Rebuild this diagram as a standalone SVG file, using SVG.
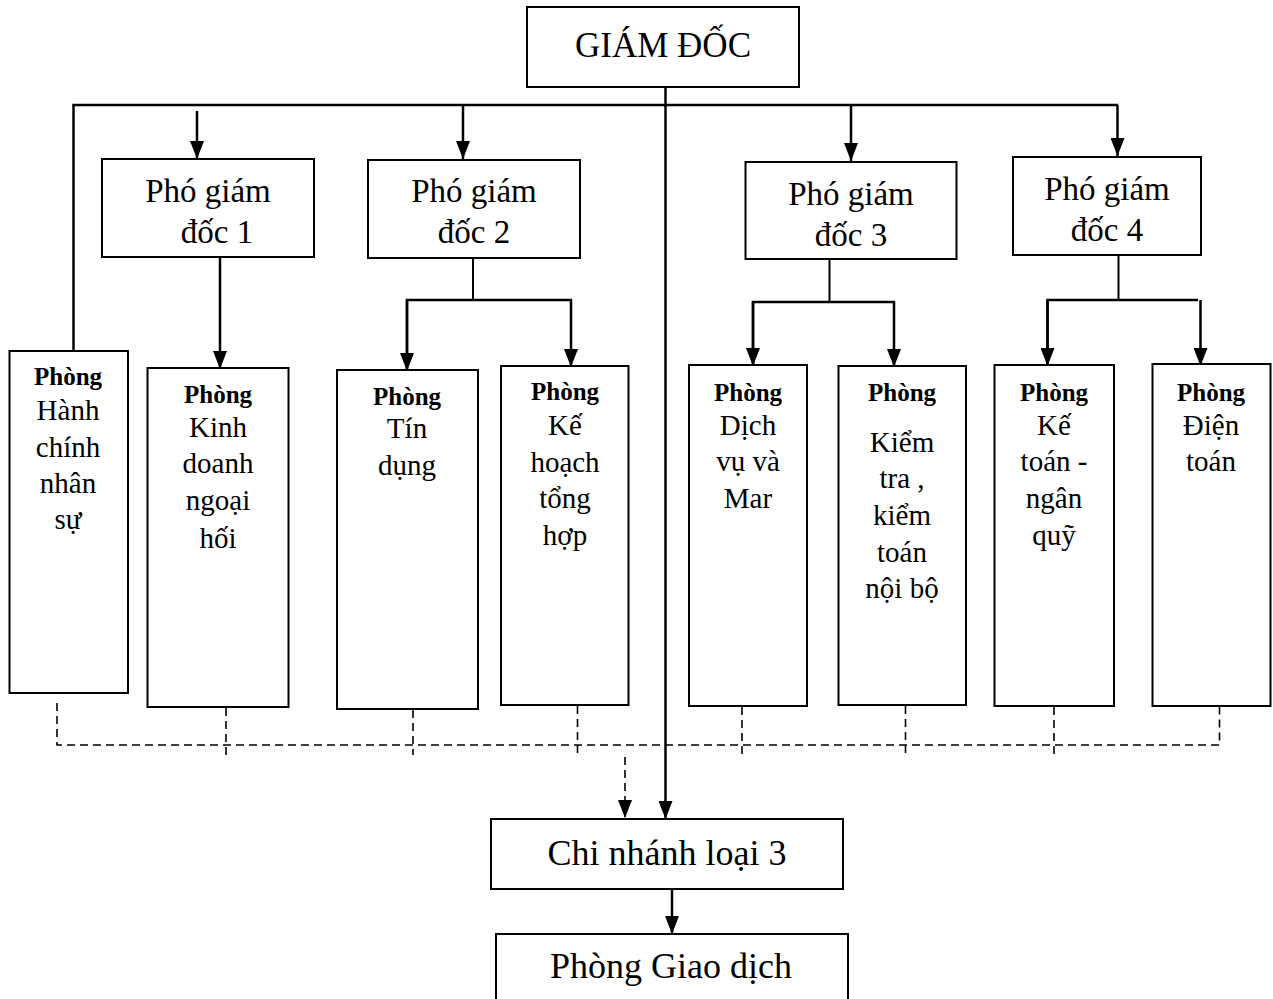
<svg xmlns="http://www.w3.org/2000/svg" width="1273" height="999" viewBox="0 0 1273 999">
<defs>
<style>
.box{fill:#fff;stroke:#000;stroke-width:2}
.ln{fill:none;stroke:#000;stroke-width:2.5}
.ln2{fill:none;stroke:#000;stroke-width:2}
.ds{fill:none;stroke:#000;stroke-width:1.6;stroke-dasharray:8,5}
text{font-family:"Liberation Serif","Times New Roman",serif;fill:#000;text-anchor:middle}
.t1{font-size:35px}
.t2{font-size:33px}
.t3{font-size:29px}
.tb{font-size:25px;font-weight:bold}
.t4{font-size:36px}
</style>
<marker id="arr" markerWidth="18" markerHeight="14" refX="18" refY="7" orient="auto" markerUnits="userSpaceOnUse">
<path d="M0,0 L18,7 L0,14 z" fill="#000"/>
</marker>
</defs>
<rect width="1273" height="999" fill="#fff"/>

<g id="connectors">
<path class="ln" d="M73.5,350 V105 H1118"/>
<path class="ln" d="M665.5,87 V819" marker-end="url(#arr)"/>
<path class="ln" d="M197,111 V159" marker-end="url(#arr)"/>
<path class="ln" d="M463,105 V159" marker-end="url(#arr)"/>
<path class="ln" d="M851,105 V161" marker-end="url(#arr)"/>
<path class="ln" d="M1117.5,105 V156" marker-end="url(#arr)"/>
<path class="ln" d="M220,252 V369" marker-end="url(#arr)"/>
<path class="ln2" d="M473,258 V300"/>
<path class="ln" d="M407,371 V300 H571 V367" marker-end="url(#arr)"/>
<path class="ln" d="M407,300 V371" marker-end="url(#arr)"/>
<path class="ln2" d="M829.5,255 V303"/>
<path class="ln" d="M753,366 V302 H894 V367" marker-end="url(#arr)"/>
<path class="ln" d="M753,302 V366" marker-end="url(#arr)"/>
<path class="ln2" d="M1118.5,255 V300"/>
<path class="ln" d="M1047.5,366 V300 H1198"/>
<path class="ln" d="M1047.5,300 V366" marker-end="url(#arr)"/>
<path class="ln" d="M1200.5,300 V366" marker-end="url(#arr)"/>
<path class="ln" d="M672,889 V934" marker-end="url(#arr)"/>
<path class="ds" d="M57,703 V745 H1219.5 V694"/>
<path class="ds" d="M226,708 V755"/>
<path class="ds" d="M413,710 V755"/>
<path class="ds" d="M577.5,706 V755"/>
<path class="ds" d="M742,707 V755"/>
<path class="ds" d="M905.5,706 V755"/>
<path class="ds" d="M1054,707 V755"/>
<path class="ds" d="M625,757 V818" marker-end="url(#arr)"/>
</g>

<g id="giam-doc">
<rect class="box" x="527" y="7" width="272" height="80"/>
<text class="t1" x="663" y="57">GIÁM ĐỐC</text>
</g>

<g id="pgd1">
<rect class="box" x="102" y="159" width="212" height="98"/>
<text class="t2" x="208" y="202">Phó giám</text>
<text class="t2" x="217" y="243">đốc 1</text>
</g>
<g id="pgd2">
<rect class="box" x="368" y="160" width="212" height="98"/>
<text class="t2" x="474" y="202">Phó giám</text>
<text class="t2" x="474" y="243">đốc 2</text>
</g>
<g id="pgd3">
<rect class="box" x="745.5" y="162" width="211" height="97"/>
<text class="t2" x="851" y="205">Phó giám</text>
<text class="t2" x="851" y="246">đốc 3</text>
</g>
<g id="pgd4">
<rect class="box" x="1013" y="157" width="188" height="98"/>
<text class="t2" x="1107" y="200">Phó giám</text>
<text class="t2" x="1107" y="241">đốc 4</text>
</g>

<g id="p-hanh-chinh">
<rect class="box" x="9.5" y="351" width="118.5" height="342"/>
<text class="tb" x="68" y="385">Phòng</text>
<text class="t3" x="68" y="420">Hành</text>
<text class="t3" x="68" y="457">chính</text>
<text class="t3" x="68" y="493">nhân</text>
<text class="t3" x="68" y="529">sự</text>
</g>
<g id="p-kinh-doanh">
<rect class="box" x="147.5" y="368" width="141" height="339"/>
<text class="tb" x="218" y="403">Phòng</text>
<text class="t3" x="218" y="437">Kinh</text>
<text class="t3" x="218" y="473">doanh</text>
<text class="t3" x="218" y="510">ngoại</text>
<text class="t3" x="218" y="548">hối</text>
</g>
<g id="p-tin-dung">
<rect class="box" x="337" y="370" width="141" height="339"/>
<text class="tb" x="407" y="405">Phòng</text>
<text class="t3" x="407" y="438">Tín</text>
<text class="t3" x="407" y="475">dụng</text>
</g>
<g id="p-ke-hoach">
<rect class="box" x="501" y="366" width="127.5" height="339"/>
<text class="tb" x="565" y="400">Phòng</text>
<text class="t3" x="565" y="435">Kế</text>
<text class="t3" x="565" y="472">hoạch</text>
<text class="t3" x="565" y="508">tổng</text>
<text class="t3" x="565" y="545">hợp</text>
</g>
<g id="p-dich-vu">
<rect class="box" x="689" y="365" width="118" height="341"/>
<text class="tb" x="748" y="401">Phòng</text>
<text class="t3" x="748" y="435">Dịch</text>
<text class="t3" x="748" y="471">vụ và</text>
<text class="t3" x="748" y="508">Mar</text>
</g>
<g id="p-kiem-tra">
<rect class="box" x="838.5" y="366" width="127.5" height="339"/>
<text class="tb" x="902" y="401">Phòng</text>
<text class="t3" x="902" y="452">Kiểm</text>
<text class="t3" x="902" y="488">tra ,</text>
<text class="t3" x="902" y="525">kiểm</text>
<text class="t3" x="902" y="562">toán</text>
<text class="t3" x="902" y="598">nội bộ</text>
</g>
<g id="p-ke-toan">
<rect class="box" x="994.5" y="365" width="119.5" height="341"/>
<text class="tb" x="1054" y="401">Phòng</text>
<text class="t3" x="1054" y="435">Kế</text>
<text class="t3" x="1054" y="471">toán -</text>
<text class="t3" x="1054" y="508">ngân</text>
<text class="t3" x="1054" y="545">quỹ</text>
</g>
<g id="p-dien-toan">
<rect class="box" x="1152.5" y="364" width="118" height="342"/>
<text class="tb" x="1211" y="401">Phòng</text>
<text class="t3" x="1211" y="435">Điện</text>
<text class="t3" x="1211" y="471">toán</text>
</g>

<g id="chi-nhanh">
<rect class="box" x="491" y="819" width="352" height="70"/>
<text class="t4" x="667" y="865">Chi nhánh loại 3</text>
</g>
<g id="phong-giao-dich">
<rect class="box" x="496" y="934" width="352" height="80"/>
<text class="t4" x="671" y="978">Phòng Giao dịch</text>
</g>
</svg>
